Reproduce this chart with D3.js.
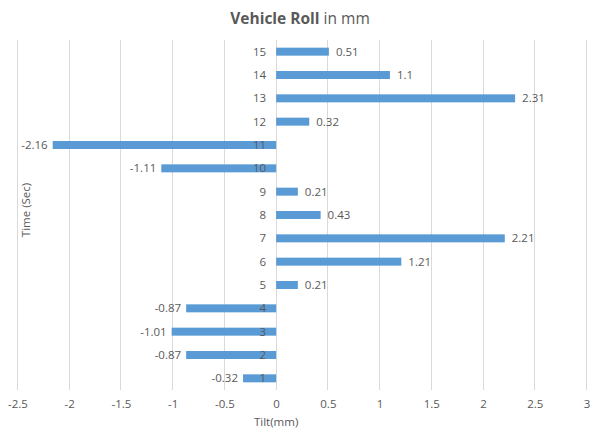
<!DOCTYPE html>
<html><head><meta charset="utf-8">
<script src="https://cdn.jsdelivr.net/npm/d3@7"></script>
<style>body{margin:0;background:#fff}svg{display:block}text{font-family:"Open Sans","Noto Sans",sans-serif;fill:#595959}</style>
</head><body>
<svg id="c" width="591" height="428"></svg>
<script>
const categories = ["1","2","3","4","5","6","7","8","9","10","11","12","13","14","15"];
const values = [-0.32,-0.87,-1.01,-0.87,0.21,1.21,2.21,0.43,0.21,-1.11,-2.16,0.32,2.31,1.1,0.51];
const xTicks = [-2.5,-2,-1.5,-1,-0.5,0,0.5,1,1.5,2,2.5,3];

const svg = d3.select("#c");
const x = d3.scaleLinear().domain([-2.5,3]).range([17.5,586.5]);
const y = d3.scaleBand().domain(categories.slice().reverse()).range([40,390]).paddingInner(0.657).paddingOuter(0.3285);

// gridlines
svg.append("g").selectAll("line").data(xTicks).join("line")
  .attr("x1",d=>x(d)).attr("x2",d=>x(d)).attr("y1",40).attr("y2",390)
  .attr("stroke","#d9d9d9").attr("stroke-width",1).attr("shape-rendering","crispEdges");

// x axis labels
const xAxis = d3.axisBottom(x).tickValues(xTicks).tickSize(0).tickPadding(0).tickFormat(d=>String(d));
const gx = svg.append("g").attr("transform","translate(0,400)").call(xAxis);
gx.select(".domain").remove();
gx.selectAll("text").style("font-size","11.5px").attr("fill","#595959");

// bars
const data = categories.map((c,i)=>({c, v:values[i]}));
svg.append("g").selectAll("rect").data(data).join("rect")
  .attr("x",d=>x(Math.min(0,d.v))).attr("width",d=>Math.abs(x(d.v)-x(0)))
  .attr("y",d=>y(d.c)).attr("height",y.bandwidth())
  .attr("fill","#5b9bd5");

// category labels (axis at 0)
const yAxis = d3.axisLeft(y).tickSize(0).tickPadding(10);
const gy = svg.append("g").attr("transform",`translate(${x(0)},0)`).call(yAxis);
gy.select(".domain").remove();
gy.selectAll("text").style("font-size","11.5px").attr("fill","#595959").attr("dy","0.35em");

// value labels
svg.append("g").selectAll("text").data(data).join("text")
  .attr("x",d=>d.v>=0 ? x(d.v)+7 : x(d.v)-5)
  .attr("y",d=>y(d.c)+y.bandwidth()/2)
  .attr("dy","0.35em")
  .attr("text-anchor",d=>d.v>=0?"start":"end")
  .style("font-size","11.5px")
  .text(d=>String(d.v));

// title
const t = svg.append("text").attr("x",300).attr("y",24).attr("text-anchor","middle").style("font-size","15.5px");
t.append("tspan").attr("font-weight","bold").text("Vehicle Roll");
t.append("tspan").text(" in mm");

// axis titles
svg.append("text").attr("x",x(0)).attr("y",426).attr("text-anchor","middle").style("font-size","11.5px").text("Tilt(mm)");
svg.append("text").attr("transform","translate(30,210) rotate(-90)").attr("text-anchor","middle").style("font-size","11.5px").text("Time (Sec)");
</script>
</body></html>
